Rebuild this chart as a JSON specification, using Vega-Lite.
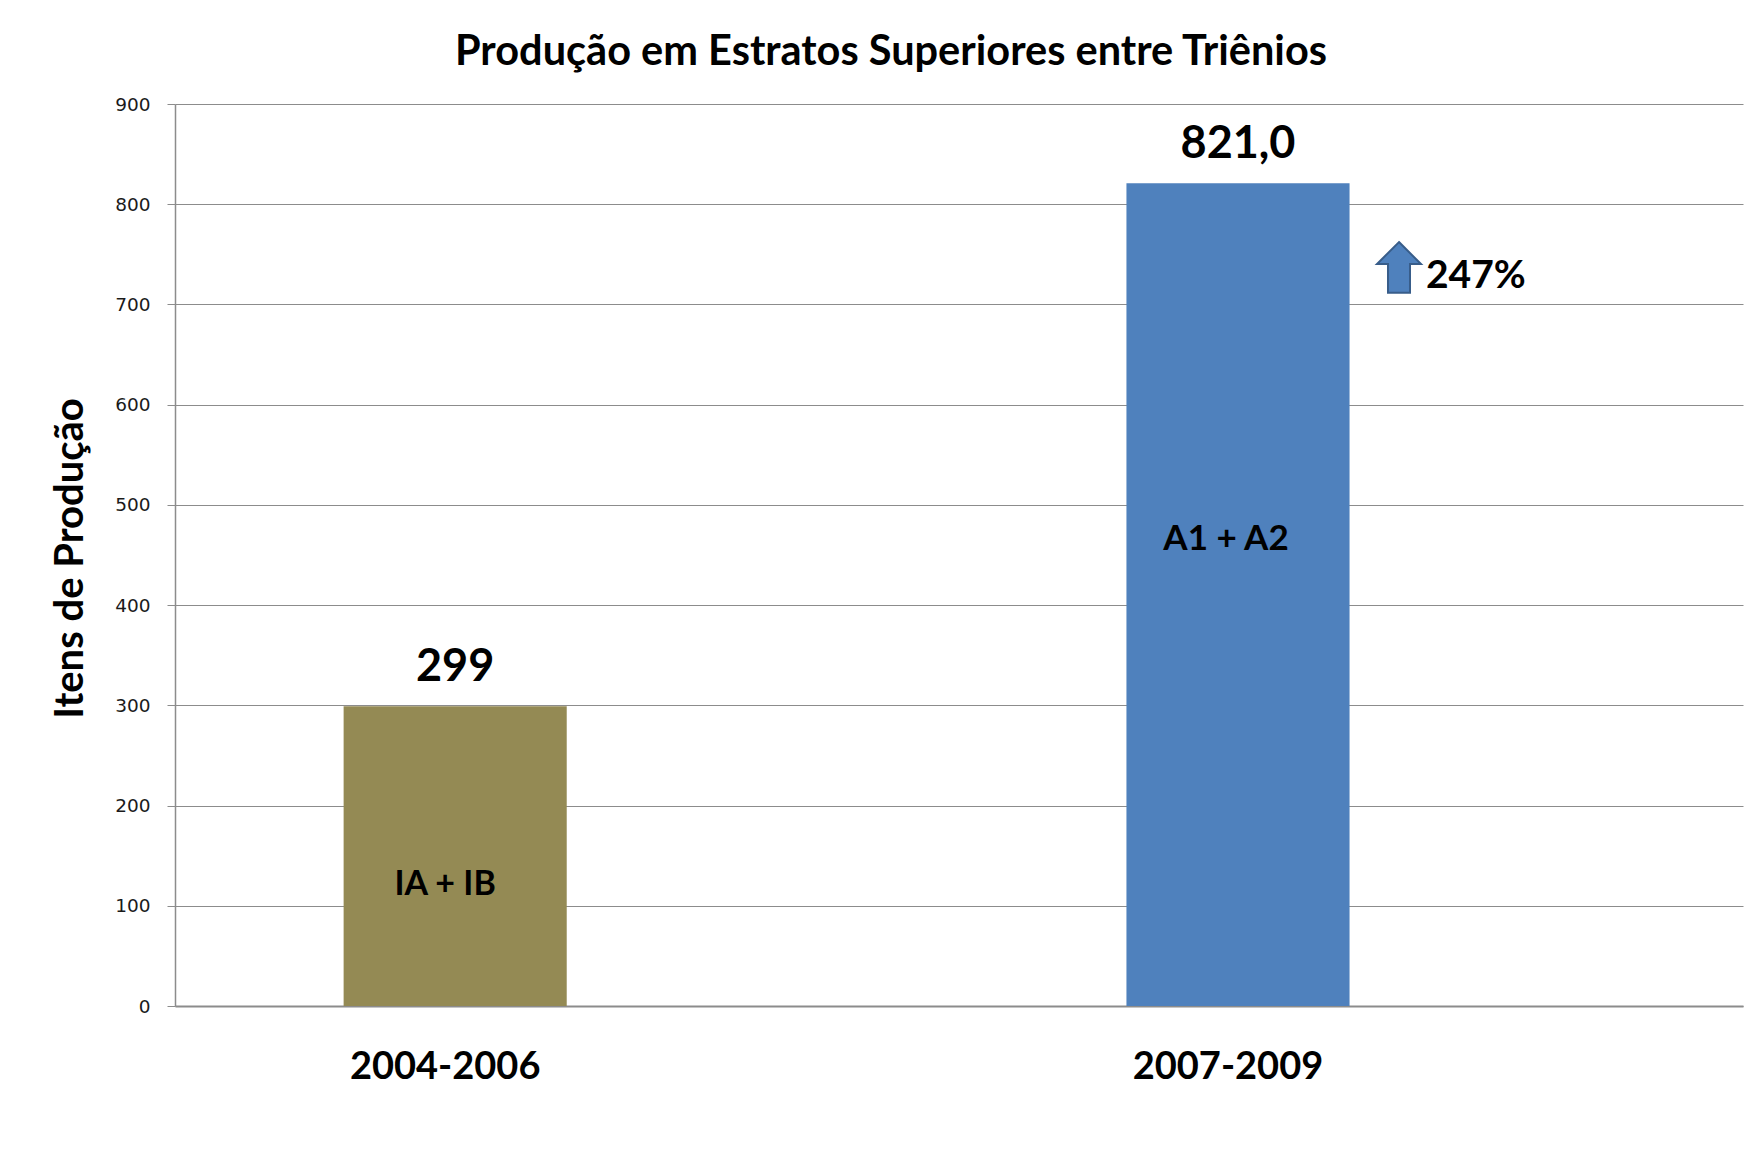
{
  "$schema": "https://vega.github.io/schema/vega-lite/v6.json",
  "width": 1568,
  "height": 902,
  "autosize": "none",
  "padding": {"left": 175, "top": 104, "right": 17, "bottom": 163},
  "background": "white",
  "config": {"view": {"stroke": null}},
  "title": {
    "text": "Produção em Estratos Superiores entre Triênios",
    "font": "Lato",
    "fontSize": 41.5,
    "fontWeight": "bold",
    "color": "#000000",
    "frame": "group",
    "anchor": "middle",
    "dx": -68,
    "dy": 50,
    "offset": 39,
    "baseline": "alphabetic"
  },
  "data": {
    "values": [
      {"periodo": "2004-2006", "valor": 299, "rotulo": "299", "estrato": "IA + IB", "aumento": null},
      {"periodo": "2007-2009", "valor": 821, "rotulo": "821,0", "estrato": "A1 + A2", "aumento": "247%"}
    ]
  },
  "encoding": {
    "x": {
      "field": "periodo",
      "type": "nominal",
      "sort": null,
      "scale": {"paddingInner": 0.715, "paddingOuter": 0.359, "align": 0.3},
      "axis": {
        "title": null,
        "labelAngle": 0,
        "labelFont": "Lato",
        "labelFontSize": 38,
        "labelFontWeight": "bold",
        "labelColor": "#000000",
        "labelBaseline": "middle",
        "labelPadding": 61,
        "labelLimit": 600,
        "labelOffset": -10,
        "ticks": false,
        "tickSize": 0,
        "domainColor": "#8c8c8c",
        "domainWidth": 2
      }
    },
    "y": {
      "field": "valor",
      "type": "quantitative",
      "scale": {"domain": [0, 900], "nice": false},
      "axis": {
        "title": "Itens de Produção",
        "titleFont": "Lato",
        "titleFontSize": 40,
        "titleFontWeight": "bold",
        "titleColor": "#000000",
        "titleAngle": -90,
        "titleX": -93,
        "titleY": 454,
        "titleAlign": "center",
        "titleBaseline": "alphabetic",
        "values": [0, 100, 200, 300, 400, 500, 600, 700, 800, 900],
        "labelFont": "DejaVu Sans",
        "labelFontSize": 18.5,
        "labelColor": "#1a1a1a",
        "labelPadding": 17,
        "tickSize": 8,
        "tickColor": "#8c8c8c",
        "domainColor": "#8c8c8c",
        "domainWidth": 1.5,
        "grid": true,
        "gridColor": "#8c8c8c",
        "gridWidth": 1
      }
    }
  },
  "layer": [
    {
      "mark": {"type": "bar"},
      "encoding": {
        "color": {"field": "periodo", "type": "nominal", "scale": {"range": ["#948A54", "#4F81BD"]}, "legend": null}
      }
    },
    {
      "mark": {"type": "text", "font": "Lato", "fontSize": 45, "fontWeight": "bold", "color": "#000000", "baseline": "alphabetic", "dy": -25},
      "encoding": {"text": {"field": "rotulo"}}
    },
    {
      "transform": [{"filter": "datum.periodo === '2004-2006'"}],
      "mark": {"type": "text", "font": "Lato", "fontSize": 34, "fontWeight": "bold", "color": "#000000", "baseline": "middle", "dx": -10},
      "encoding": {"text": {"field": "estrato"}, "y": {"datum": 121, "type": "quantitative"}}
    },
    {
      "transform": [{"filter": "datum.periodo === '2007-2009'"}],
      "mark": {"type": "text", "font": "Lato", "fontSize": 35, "fontWeight": "bold", "color": "#000000", "baseline": "middle", "dx": -12},
      "encoding": {"text": {"field": "estrato"}, "y": {"datum": 466, "type": "quantitative"}}
    },
    {
      "transform": [{"filter": "datum.aumento !== null"}],
      "mark": {
        "type": "point",
        "shape": "M0,-1.15L1,-0.15L0.5,-0.15L0.5,1.15L-0.5,1.15L-0.5,-0.15L-1,-0.15Z",
        "size": 1936,
        "filled": true,
        "fill": "#4F81BD",
        "stroke": "#385D8A",
        "strokeWidth": 2,
        "opacity": 1,
        "xOffset": 161
      },
      "encoding": {"y": {"datum": 737, "type": "quantitative"}}
    },
    {
      "transform": [{"filter": "datum.aumento !== null"}],
      "mark": {"type": "text", "font": "Lato", "fontSize": 39, "fontWeight": "bold", "color": "#000000", "baseline": "alphabetic", "align": "left", "dx": 188},
      "encoding": {"text": {"field": "aumento"}, "y": {"datum": 716, "type": "quantitative"}}
    }
  ]
}
